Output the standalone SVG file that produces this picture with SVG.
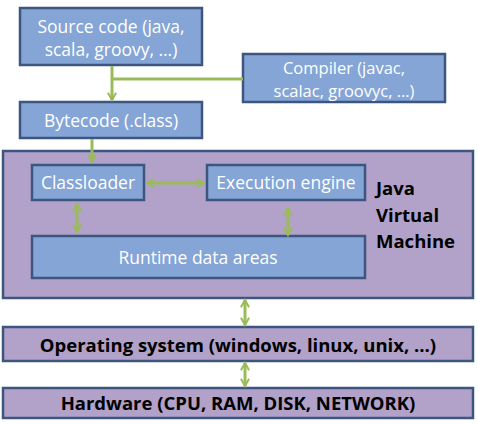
<svg xmlns="http://www.w3.org/2000/svg" width="478" height="424" viewBox="0 0 478 424">
<style>
.blue{fill:#84a5d6;stroke:#3d5680;stroke-width:2.5}
.purp{fill:#b2a1c8;stroke:#3d5680;stroke-width:2.5}
.wt{fill:#ffffff;font-family:"Open Sans","Liberation Sans",sans-serif;font-size:17.5px;text-anchor:middle}
.bk{fill:#000000;font-family:"Open Sans","Liberation Sans",sans-serif;font-size:18.5px;font-weight:bold;text-anchor:middle}
.ln{stroke:#9bbb59;stroke-width:3;fill:none}
</style>
<defs>
<marker id="ah" viewBox="0 0 10 10" refX="8" refY="5" markerWidth="3.4" markerHeight="3.4" orient="auto-start-reverse" markerUnits="strokeWidth">
<path d="M1,1 L8,5 L1,9" fill="none" stroke="#9bbb59" stroke-width="2"/>
</marker>
</defs>
<rect width="478" height="424" fill="#ffffff"/>
<g id="jvm">
<rect class="purp" x="3" y="151" width="470" height="147"/>
<text class="bk" style="text-anchor:start" x="376" y="195">Java</text>
<text class="bk" style="text-anchor:start" x="376" y="222">Virtual</text>
<text class="bk" style="text-anchor:start" x="376" y="248">Machine</text>
</g>
<g id="source">
<rect class="blue" x="20" y="8" width="182" height="57"/>
<text class="wt" x="111" y="33">Source code (java,</text>
<text class="wt" x="111" y="56">scala, groovy, …)</text>
</g>
<g id="compiler">
<rect class="blue" x="243" y="54" width="202" height="48"/>
<text class="wt" style="font-size:16.5px" x="344" y="74">Compiler (javac,</text>
<text class="wt" style="font-size:16.5px" x="344" y="97">scalac, groovyc, …)</text>
</g>
<g id="bytecode">
<rect class="blue" x="20" y="102" width="182" height="36"/>
<text class="wt" x="111" y="127">Bytecode (.class)</text>
</g>
<g id="classloader">
<rect class="blue" x="32" y="165" width="112" height="35"/>
<text class="wt" x="88" y="189">Classloader</text>
</g>
<g id="execution">
<rect class="blue" x="207" y="165" width="158" height="35"/>
<text class="wt" x="286" y="189">Execution engine</text>
</g>
<g id="runtime">
<rect class="blue" x="32" y="236" width="333" height="42"/>
<text class="wt" x="198" y="264">Runtime data areas</text>
</g>
<g id="os">
<rect class="purp" x="3" y="327" width="470" height="34"/>
<text class="bk" x="238" y="352">Operating system (windows, linux, unix, …)</text>
</g>
<g id="hardware">
<rect class="purp" x="3" y="388" width="470" height="30"/>
<text class="bk" x="238" y="410">Hardware (CPU, RAM,  DISK, NETWORK)</text>
</g>
<g id="connectors">
<path class="ln" d="M112,66 V100" marker-end="url(#ah)"/>
<path class="ln" d="M112,79 H243"/>
<path class="ln" d="M92,139 V162" marker-end="url(#ah)"/>
<path class="ln" d="M147,183 H204" marker-start="url(#ah)" marker-end="url(#ah)"/>
<path class="ln" d="M77,204 V232" marker-start="url(#ah)" marker-end="url(#ah)"/>
<path class="ln" d="M288,208 V235" marker-start="url(#ah)" marker-end="url(#ah)"/>
<path class="ln" d="M245,300 V325" marker-start="url(#ah)" marker-end="url(#ah)"/>
<path class="ln" d="M245,363 V386" marker-start="url(#ah)" marker-end="url(#ah)"/>
</g>
</svg>
